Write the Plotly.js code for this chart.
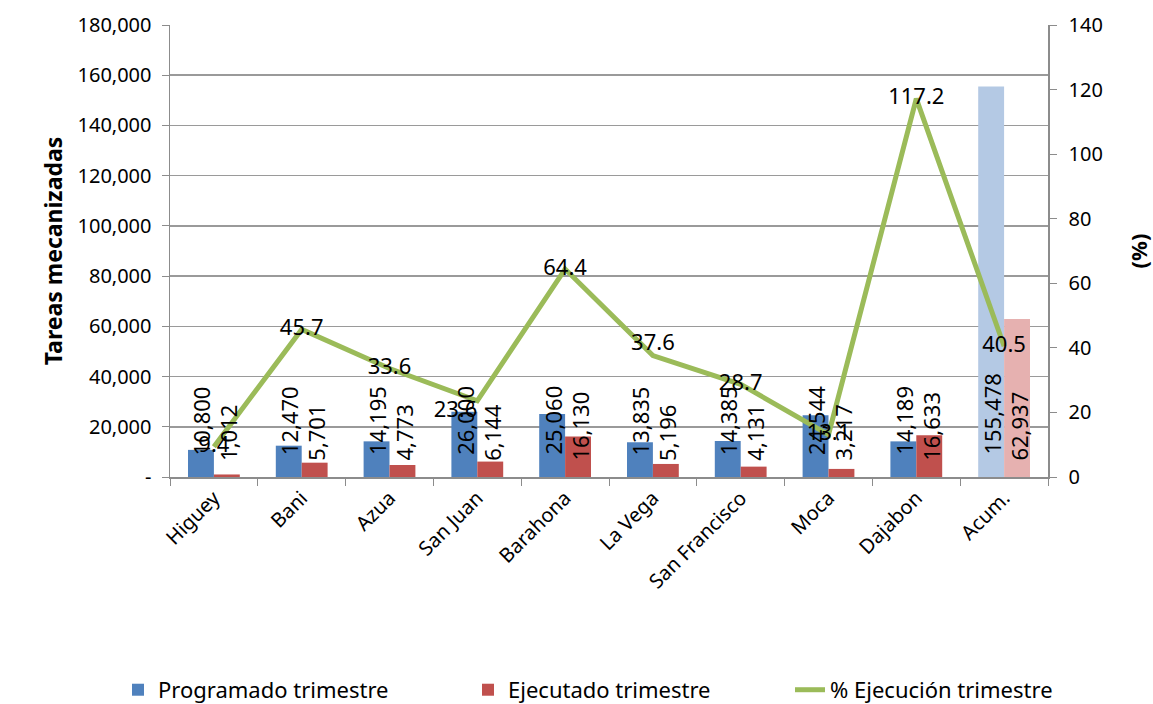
<!DOCTYPE html>
<html><head><meta charset="utf-8">
<script src="https://cdn.plot.ly/plotly-3.0.1.min.js"></script>
<style>body{margin:0;background:#fff}#c{width:1153px;height:704px}</style>
</head><body><div id="c"></div>
<script>
const categories = ["Higuey","Bani","Azua","San Juan","Barahona","La Vega","San Francisco","Moca","Dajabon","Acum."];
const programado = [10800,12470,14195,26000,25060,13835,14385,24544,14189,155478];
const ejecutado = [1012,5701,4773,6144,16130,5196,4131,3217,16633,62937];
const ejecucion = [9.4,45.7,33.6,23.6,64.4,37.6,28.7,13.1,117.2,40.5];
const pctPos = ["middle center","middle center","middle center","bottom left","middle center","top center","middle center","middle center","middle center","middle center"];
const leftTicks = [0,20000,40000,60000,80000,100000,120000,140000,160000,180000];
const leftTickText = ["-","20,000","40,000","60,000","80,000","100,000","120,000","140,000","160,000","180,000"];

const FONT = "Noto Sans, sans-serif";
const blue = categories.map((c,i)=> i===categories.length-1 ? "#B4C9E4" : "#4F81BD");
const red = categories.map((c,i)=> i===categories.length-1 ? "#E6B1B0" : "#C0504D");
const fmt = v => v.toLocaleString("en-US");

const traces = [
  {type:"bar", name:"Programado trimestre", x:categories, y:programado, marker:{color:blue}, hoverinfo:"none", legend:"legend"},
  {type:"bar", name:"Ejecutado trimestre", x:categories, y:ejecutado, marker:{color:red}, hoverinfo:"none", legend:"legend2"},
  {type:"scatter", mode:"lines+text", name:"% Ejecución trimestre", x:categories, y:ejecucion, yaxis:"y2", legend:"legend3",
   line:{color:"#9BBB59", width:5}, text:ejecucion.map(v=>v.toFixed(1)), textposition:pctPos,
   textfont:{family:FONT, size:22, color:"#000"}, cliponaxis:false, hoverinfo:"none"}
];

const annotations = [];
categories.forEach((c,i)=>{
  annotations.push({x:c, y:0, xref:"x", yref:"y", text:fmt(programado[i]), textangle:-90, showarrow:false,
    xanchor:"center", yanchor:"bottom", xshift:-13, yshift:20, font:{family:FONT,size:22,color:"#000"}});
  annotations.push({x:c, y:0, xref:"x", yref:"y", text:fmt(ejecutado[i]), textangle:-90, showarrow:false,
    xanchor:"center", yanchor:"bottom", xshift:14, yshift:14, font:{family:FONT,size:22,color:"#000"}});
});

const legBase = {orientation:"h", xref:"container", yref:"container", xanchor:"left", y:0.02, yanchor:"middle",
                 font:{family:FONT,size:22,color:"#000"}, bgcolor:"rgba(0,0,0,0)"};

const layout = {
  width:1153, height:704,
  margin:{l:170, r:105, t:25, b:227, autoexpand:false},
  paper_bgcolor:"#fff", plot_bgcolor:"#fff",
  font:{family:FONT, size:20, color:"#000"},
  barmode:"group", bargap:0.41, bargroupgap:0,
  showlegend:true,
  legend: Object.assign({}, legBase, {x:118/1153}),
  legend2: Object.assign({}, legBase, {x:468/1153}),
  legend3: Object.assign({}, legBase, {x:790/1153}),
  xaxis:{type:"category", tickangle:-45, showline:true, linecolor:"#8c8c8c", linewidth:1.5, automargin:false,
         ticks:"outside", tickson:"boundaries", ticklen:7, tickcolor:"#8c8c8c", showgrid:false,
         tickfont:{family:FONT,size:20}},
  yaxis:{range:[0,180000], tickvals:leftTicks, ticktext:leftTickText, showline:true, linecolor:"#8c8c8c", linewidth:1.5,
         automargin:false, ticks:"outside", ticklen:7, tickcolor:"#8c8c8c", gridcolor:"#9a9a9a", gridwidth:1.5, zeroline:false,
         ticklabelstandoff:6, tickfont:{family:FONT,size:20},
         title:{text:"<b>Tareas mecanizadas</b>", font:{family:FONT,size:23}, standoff:8}},
  yaxis2:{range:[0,140], dtick:20, overlaying:"y", side:"right", showline:true, linecolor:"#8c8c8c", linewidth:1.5,
         automargin:false, ticks:"outside", ticklen:7, tickcolor:"#8c8c8c", showgrid:false, zeroline:false, ticklabelstandoff:8,
         tickfont:{family:FONT,size:20},
         title:{text:"<b>(%)</b>", font:{family:FONT,size:22}, standoff:30}},
  annotations:annotations
};
Plotly.newPlot("c", traces, layout, {displayModeBar:false, staticPlot:true});
</script></body></html>
